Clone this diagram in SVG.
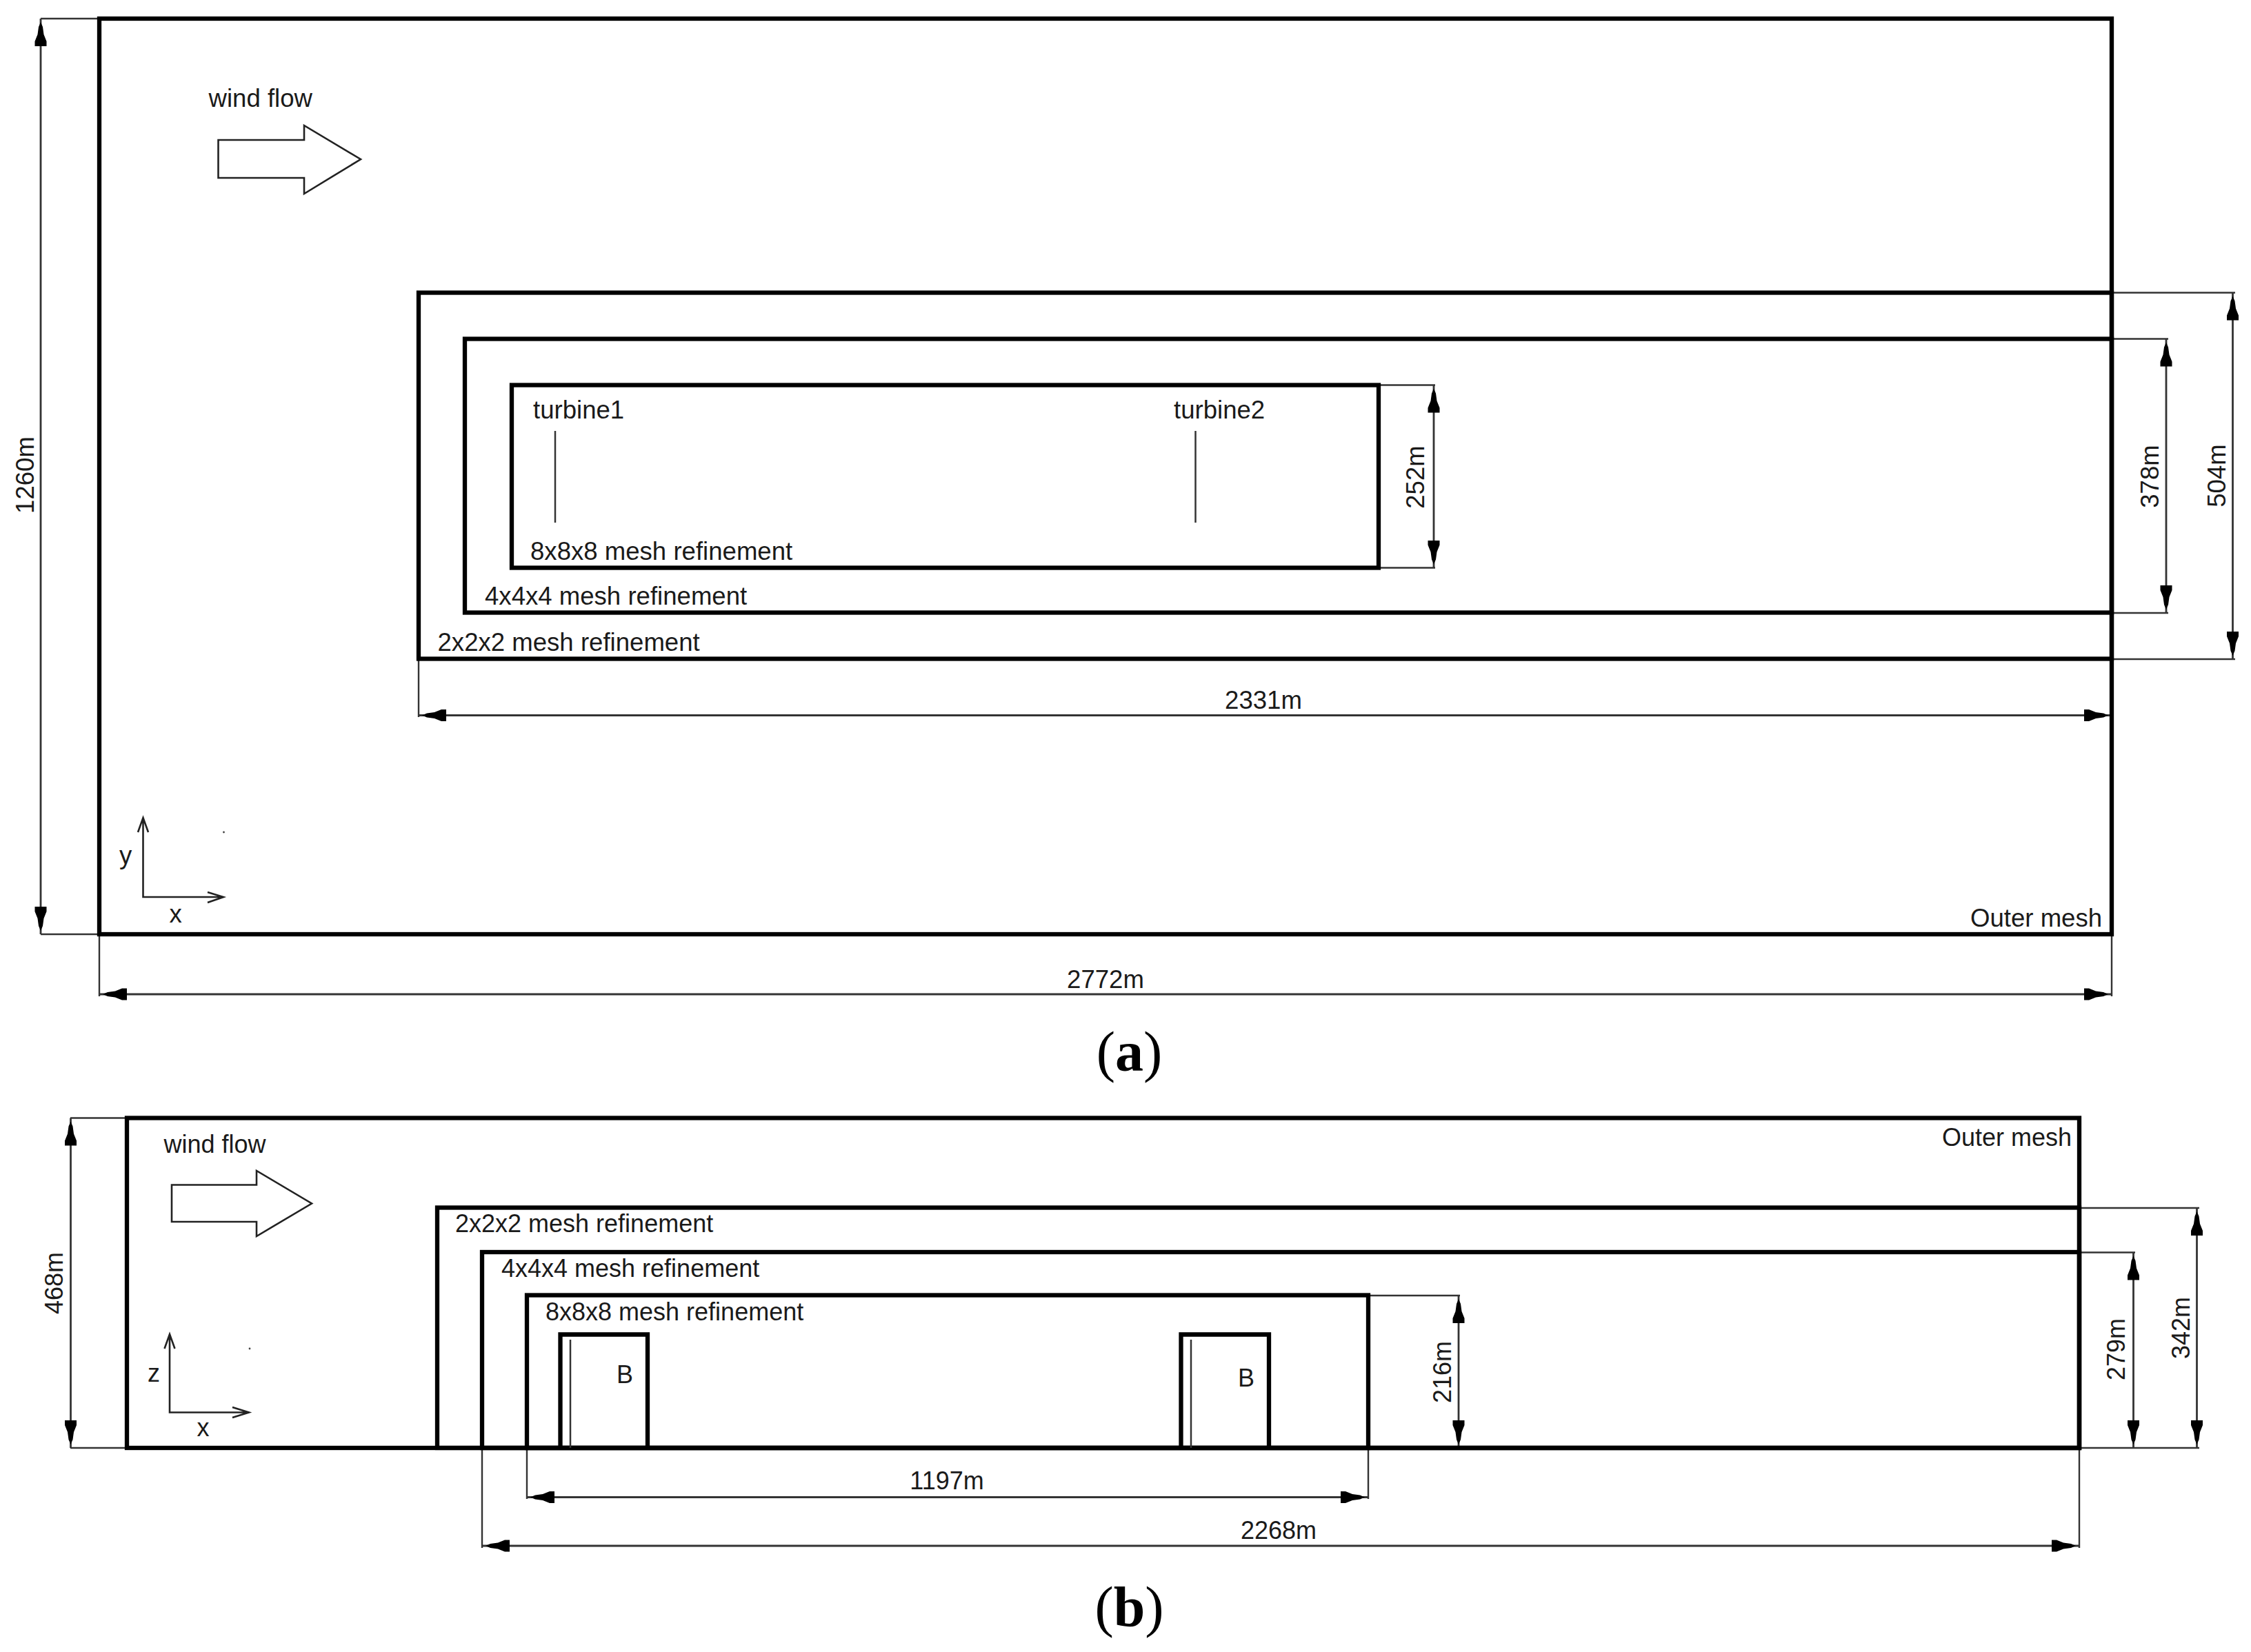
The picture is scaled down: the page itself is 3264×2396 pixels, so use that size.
<svg xmlns="http://www.w3.org/2000/svg" width="3264" height="2396" viewBox="0 0 3264 2396">
<style>
text{font-family:"Liberation Sans",Arial,sans-serif;font-size:36.6px;fill:#1a1a1a}
#panel-b text{font-size:36px}
#panel-b .cap,.cap{font-family:"Liberation Serif","Times New Roman",serif;font-size:82px;fill:#000;text-anchor:middle}
.m{text-anchor:middle}
.box{fill:none;stroke:#000;stroke-width:6.3}
.thin{fill:none;stroke:#333;stroke-width:2.5}
.dim{fill:none;stroke:#333;stroke-width:2.8;marker-start:url(#dimHead);marker-end:url(#dimHead)}
.ext{fill:none;stroke:#333;stroke-width:2.4}
.ax{fill:none;stroke:#222;stroke-width:2.6}
.flow{fill:#fff;stroke:#222;stroke-width:2.6;stroke-linejoin:miter}
.dot{fill:#444}
</style>
<defs>
<marker id="dimHead" markerUnits="userSpaceOnUse" markerWidth="42" markerHeight="22" viewBox="0 -11 42 22" refX="40" refY="0" orient="auto-start-reverse">
<path d="M0,-8.5 L7,-8.5 L17,-4.5 L28,-3 L35,0 L28,3 L17,4.5 L7,8.5 L0,8.5 Z" fill="#000"/>
</marker>
</defs>
<rect width="3264" height="2396" fill="#fff"/>

<g id="connectors">
<!-- panel a -->
<path class="ext" d="M59,27H144M59,1355H144M144,1355V1445M3062,1355V1445M1999,558.5H2081M1999,823.5H2081M3062,424.5H3241M3062,956H3241M3062,491.5H3144M3062,889H3144M607,955V1040"/>
<path class="dim" d="M59,27V1355"/>
<path class="dim" d="M144,1442H3062"/>
<path class="dim" d="M607,1037.5H3062"/>
<path class="dim" d="M2079,558.5V823.5"/>
<path class="dim" d="M3141,491.5V889"/>
<path class="dim" d="M3237.5,424.5V956"/>
<!-- panel b -->
<path class="ext" d="M102,1621.5H184M102,2100H184M1984,1879H2117M3015,1752H3189M3015,2100H3189M3015,1816.5H3096M764,2100V2174M1984,2100V2174M699,2100V2245M3015,2100V2245"/>
<path class="dim" d="M102.5,1621.5V2100"/>
<path class="dim" d="M2115,1879V2100"/>
<path class="dim" d="M3093.5,1816.5V2100"/>
<path class="dim" d="M3185.5,1752V2100"/>
<path class="dim" d="M764,2171.5H1984"/>
<path class="dim" d="M699,2242H3015"/>
</g>

<g id="panel-a">
<g id="a-outer-mesh"><rect class="box" x="144" y="27" width="2918" height="1328"/><text x="2857" y="1344">Outer mesh</text></g>
<g id="a-refine-2"><rect class="box" x="607" y="424.5" width="2455" height="531"/><text x="634.5" y="943.5">2x2x2 mesh refinement</text></g>
<g id="a-refine-4"><rect class="box" x="674" y="491.5" width="2388" height="397"/><text x="703" y="877">4x4x4 mesh refinement</text></g>
<g id="a-refine-8"><rect class="box" x="742" y="558.5" width="1257" height="265"/><text x="769" y="812">8x8x8 mesh refinement</text></g>
<g id="a-turbine1"><text x="773" y="606.5">turbine1</text><path class="thin" d="M805,625V758"/></g>
<g id="a-turbine2"><text x="1702" y="606.5">turbine2</text><path class="thin" d="M1733.5,625V758"/></g>
<g id="a-wind"><text x="302.5" y="155">wind flow</text><path class="flow" d="M316.5,203H441V182L523,231L441,281V258H316.5Z"/></g>
<g id="a-axes">
<path class="ax" d="M207.5,1186V1301H324M200,1207L207.5,1186L215,1207M301,1294L324,1301L301,1309"/>
<circle class="dot" cx="324.5" cy="1207" r="1.4"/>
<text x="173" y="1253">y</text><text x="245.5" y="1338">x</text>
</g>
<g id="a-dim-labels">
<text class="m" transform="translate(49,689) rotate(-90)">1260m</text>
<text class="m" x="1603" y="1433">2772m</text>
<text class="m" x="1832" y="1028">2331m</text>
<text class="m" transform="translate(2065,692) rotate(-90)">252m</text>
<text class="m" transform="translate(3130,691) rotate(-90)">378m</text>
<text class="m" transform="translate(3226.5,690) rotate(-90)">504m</text>
</g>
<text class="cap" x="1637.5" y="1553">(<tspan font-weight="700">a</tspan>)</text>
</g>

<g id="panel-b">
<g id="b-outer-mesh"><rect class="box" x="184" y="1621.5" width="2831" height="478.5"/><text x="2816" y="1661.5">Outer mesh</text></g>
<g id="b-refine-2"><rect class="box" x="634" y="1751.5" width="2381" height="348.5"/><text x="660" y="1787">2x2x2 mesh refinement</text></g>
<g id="b-refine-4"><rect class="box" x="699" y="1816" width="2316" height="284"/><text x="727" y="1852">4x4x4 mesh refinement</text></g>
<g id="b-refine-8"><rect class="box" x="764" y="1878.5" width="1220" height="221.5"/><text x="791" y="1914.5">8x8x8 mesh refinement</text></g>
<g id="b-building1"><path class="box" d="M812.5,2100V1935.5H939V2100"/><path class="thin" d="M827,1943V2100"/><text x="894" y="2006">B</text></g>
<g id="b-building2"><path class="box" d="M1712.5,2100V1935.5H1840V2100"/><path class="thin" d="M1727,1943V2100"/><text x="1795" y="2011">B</text></g>
<g id="b-wind"><text x="237.5" y="1671.5">wind flow</text><path class="flow" d="M249,1718.5H372V1698L452,1745.5L372,1793V1772H249Z"/></g>
<g id="b-axes">
<path class="ax" d="M246,1935V2048.5H361M238.5,1956L246,1935L253.5,1956M337,2041L361,2048.5L337,2056"/>
<circle class="dot" cx="362" cy="1956" r="1.4"/>
<text x="214" y="2004">z</text><text x="285.5" y="2083">x</text>
</g>
<g id="b-dim-labels">
<text class="m" transform="translate(91,1861) rotate(-90)">468m</text>
<text class="m" transform="translate(2103.5,1990) rotate(-90)">216m</text>
<text class="m" transform="translate(3081,1957) rotate(-90)">279m</text>
<text class="m" transform="translate(3175,1926) rotate(-90)">342m</text>
<text class="m" x="1373" y="2160">1197m</text>
<text class="m" x="1854" y="2232">2268m</text>
</g>
<text class="cap" x="1637.5" y="2358">(<tspan font-weight="700">b</tspan>)</text>
</g>
</svg>
